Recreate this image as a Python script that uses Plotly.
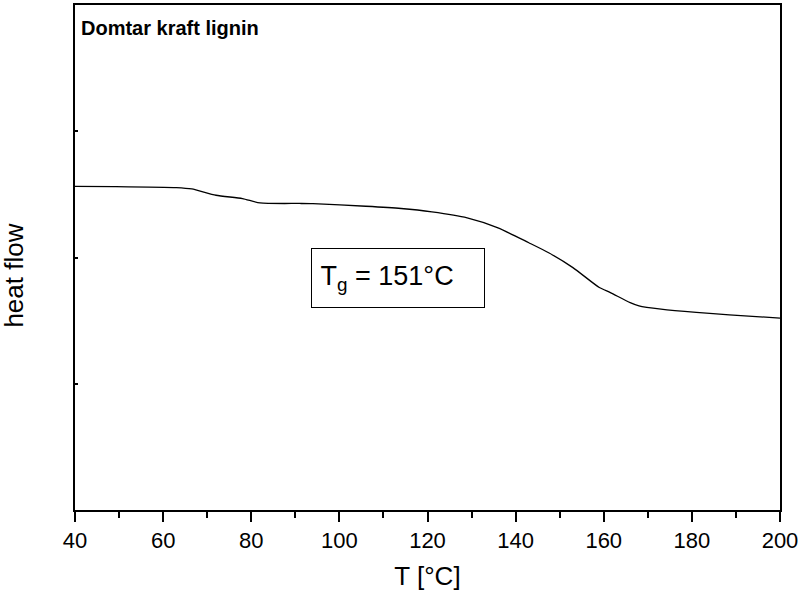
import plotly.graph_objects as go

temperature = [40, 49, 63, 66.5, 72, 78, 82, 91, 94, 106, 114, 121, 129, 136, 143,
               147.5, 153, 159, 161.5, 166, 168, 173, 181, 188.5, 200]
heat_flow = [2.564, 2.562, 2.554, 2.543, 2.493, 2.467, 2.432, 2.428, 2.426, 2.406,
             2.388, 2.361, 2.314, 2.235, 2.117, 2.038, 1.920, 1.762, 1.722,
             1.643, 1.617, 1.591, 1.565, 1.546, 1.520]

x_ticks = [40, 60, 80, 100, 120, 140, 160, 180, 200]
y_ticks = [0, 1, 2, 3, 4]

fig = go.Figure()
fig.add_trace(go.Scatter(x=temperature, y=heat_flow, mode="lines",
                         line=dict(color="black", width=1.3, shape="spline", smoothing=0.6),
                         showlegend=False, hoverinfo="skip"))

fig.add_annotation(x=113.2, y=1.838, xref="x", yref="y",
                   text="&nbsp;T<sub>g</sub> = 151°C", showarrow=False, align="left",
                   font=dict(family="Liberation Sans, Arial", size=27, color="black"),
                   bordercolor="black", borderwidth=1, width=170, height=56,
                   bgcolor="white")

fig.add_annotation(x=0.006, y=0.955, xref="paper", yref="paper", xanchor="left", yanchor="middle",
                   text="<b>Domtar kraft lignin</b>", showarrow=False,
                   font=dict(family="Liberation Sans, Arial", size=20, color="black"))

fig.add_annotation(x=-0.087, y=0.4635, xref="paper", yref="paper", xanchor="center", yanchor="middle",
                   text="heat flow", textangle=-90, showarrow=False,
                   font=dict(family="Liberation Sans, Arial", size=26, color="black"))

fig.update_layout(
    width=801, height=595,
    margin=dict(l=75, r=20, t=3, b=85),
    paper_bgcolor="white", plot_bgcolor="white",
    font=dict(family="Liberation Sans, Arial", color="black"),
    xaxis=dict(range=[40, 200], tickvals=x_ticks, ticks="outside", ticklen=10, tickwidth=1.5,
               tickcolor="black", showline=True, linecolor="black", linewidth=2, mirror=True,
               showgrid=False, zeroline=False, tickfont=dict(size=22),
               minor=dict(dtick=10, tick0=40, ticks="outside", ticklen=6, tickwidth=1.5,
                          tickcolor="black", showgrid=False),
               title=dict(text="T [°C]", font=dict(size=26), standoff=14)),
    yaxis=dict(range=[0, 4], tickvals=y_ticks, ticks="inside", ticklen=3, tickwidth=1.5,
               tickcolor="black", showline=True, linecolor="black", linewidth=2, mirror=True,
               showgrid=False, zeroline=False, showticklabels=False),
)

fig.write_html("out.html")
